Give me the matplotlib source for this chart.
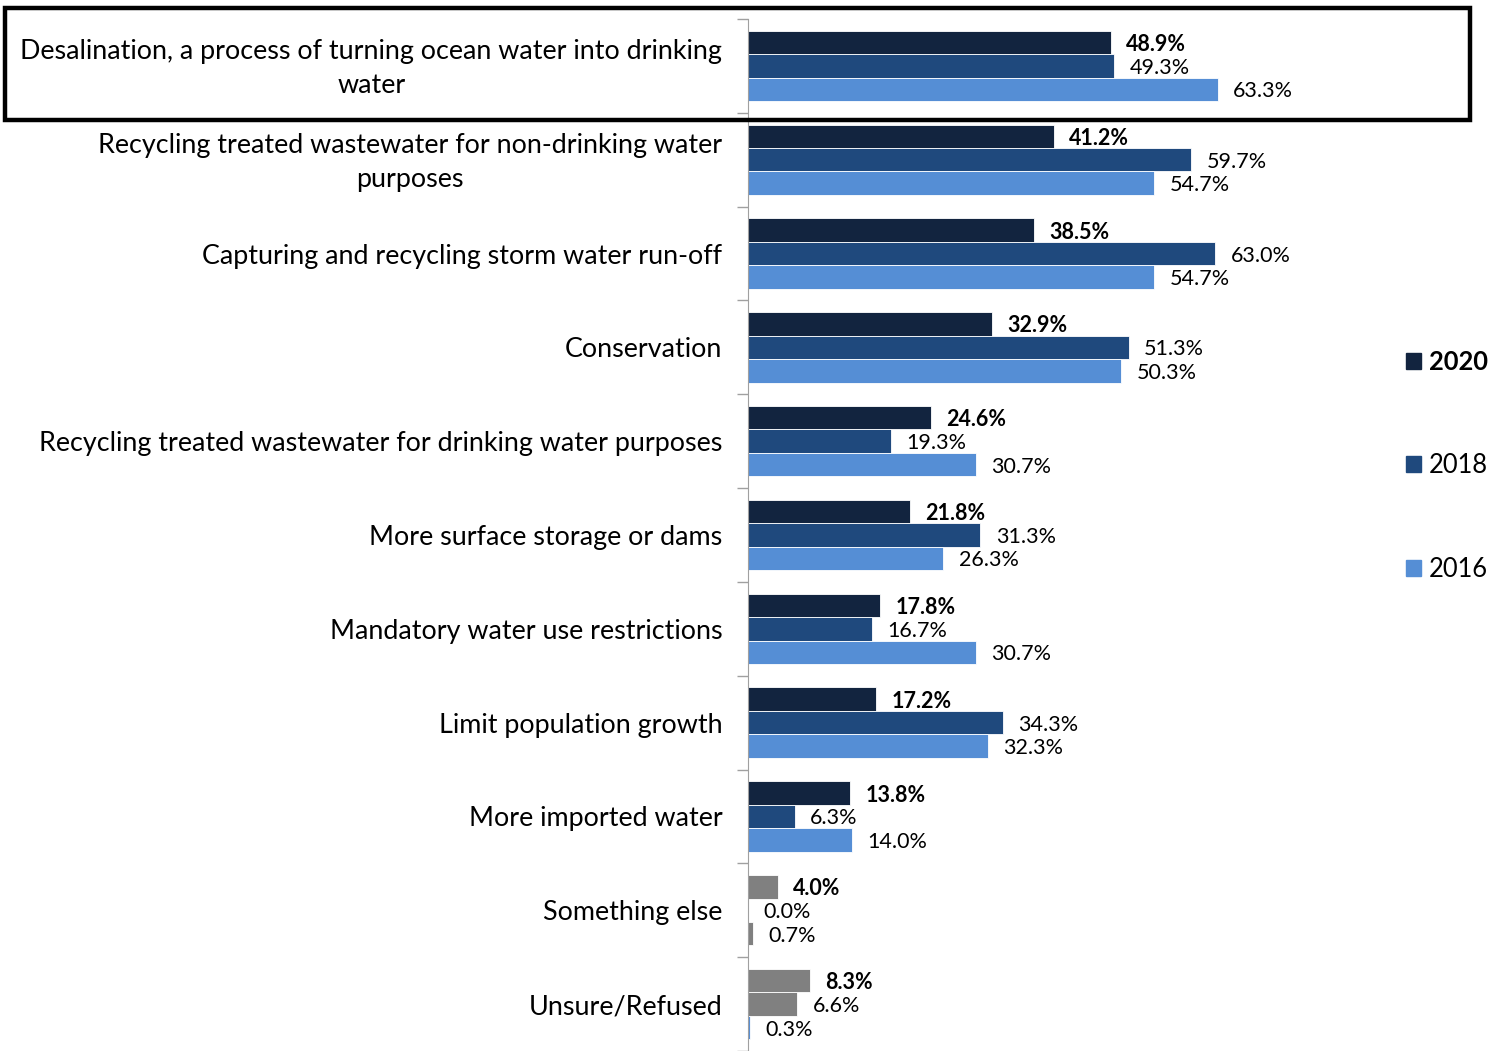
import matplotlib.pyplot as plt
import matplotlib.transforms as mtransforms
from matplotlib.patches import Rectangle, Patch

plt.rcParams['font.family'] = ['Lato', 'DejaVu Sans']

categories = [
    'Desalination, a process of turning ocean water into drinking\nwater',
    'Recycling treated wastewater for non-drinking water\npurposes',
    'Capturing and recycling storm water run-off',
    'Conservation',
    'Recycling treated wastewater for drinking water purposes',
    'More surface storage or dams',
    'Mandatory water use restrictions',
    'Limit population growth',
    'More imported water',
    'Something else',
    'Unsure/Refused',
]
years = ['2020', '2018', '2016']
v2020 = [48.9, 41.2, 38.5, 32.9, 24.6, 21.8, 17.8, 17.2, 13.8, 4.0, 8.3]
v2018 = [49.3, 59.7, 63.0, 51.3, 19.3, 31.3, 16.7, 34.3, 6.3, 0.0, 6.6]
v2016 = [63.3, 54.7, 54.7, 50.3, 30.7, 26.3, 30.7, 32.3, 14.0, 0.7, 0.3]

colors = ['#12243f', '#1f497d', '#558ed5']
grey = '#808080'

fig = plt.figure(figsize=(15.05, 10.51), dpi=100)
ax = fig.add_axes([748 / 1505, 0, 742 / 1505, 1 - 19 / 1051])

h = 0.25
offsets = [-h, 0, h]
series = [v2020, v2018, v2016]
for s, (vals, col, off) in enumerate(zip(series, colors, offsets)):
    for i, v in enumerate(vals):
        c = col
        if i >= 9:
            c = grey
            if i == 10 and s == 2:
                c = colors[2]
        ax.barh(i + off, v, height=h, color=c, edgecolor='white', linewidth=0.6)
        ax.text(v + 2.1, i + off, f'{v:.1f}%', va='center_baseline', ha='left',
                fontsize=15.5, color='black',
                fontweight='bold' if s == 0 else 'normal')

ax.set_xlim(0, 100)
ax.set_ylim(10.5, -0.5)
ax.set_yticks(range(len(categories)))
ax.set_yticklabels(categories, fontsize=19.4, multialignment='center',
                   linespacing=1.42)
ax.tick_params(axis='y', which='major', length=0, pad=18.5)
ax.set_yticks([k + 0.5 for k in range(-1, len(categories))], minor=True)
ax.tick_params(axis='y', which='minor', length=8, color='#a0a0a0', width=1)
ax.set_xticks([])
for sp in ['top', 'right', 'bottom']:
    ax.spines[sp].set_visible(False)
ax.spines['left'].set_color('#a0a0a0')

# nudge the two-line labels up a little
shift = mtransforms.ScaledTranslation(0, 4 / 100, fig.dpi_scale_trans)
for lab in ax.get_yticklabels()[:2]:
    lab.set_transform(lab.get_transform() + shift)

handles = [Patch(color=c) for c in colors]
leg = fig.legend(handles, years, loc='center left',
                 bbox_to_anchor=(1383 / 1505, 1 - 466 / 1051),
                 frameon=False, fontsize=18.4, labelspacing=3.1,
                 handlelength=0.6, handleheight=0.6, handletextpad=0.3)
leg.get_texts()[0].set_fontweight('bold')

fig.patches.append(Rectangle((5 / 1505, 1 - 120 / 1051), 1465 / 1505, 112 / 1051,
                             transform=fig.transFigure, fill=False,
                             edgecolor='black', linewidth=3.2, zorder=10))

fig.savefig('out.png', dpi=100)
